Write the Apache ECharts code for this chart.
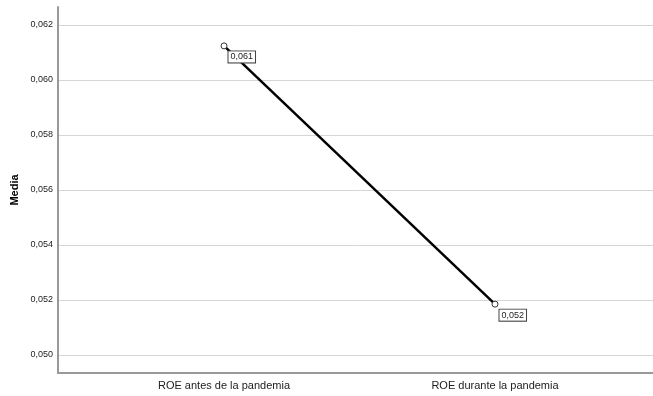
<!DOCTYPE html>
<html><head><meta charset="utf-8">
<script src="https://cdn.jsdelivr.net/npm/echarts@6/dist/echarts.min.js"></script>
<style>html,body{margin:0;padding:0;background:#fff}#c{width:653px;height:396px}</style>
</head><body><div id="c"></div>
<script>
const categories = ['ROE antes de la pandemia', 'ROE durante la pandemia'];
const means = [0.06124, 0.05185];
const pointLabels = ['0,061', '0,052'];
const yTicks = { min: 0.050, max: 0.062, interval: 0.002 };

const chart = echarts.init(document.getElementById('c'), null, { renderer: 'canvas' });
const fmt = v => v.toFixed(3).replace('.', ',');
const font = 'Liberation Sans, Arial';
chart.setOption({
  animation: false,
  grid: [
    { left: 58, right: 0, top: 7, bottom: 23 },
    { left: 58, right: 0, top: 25, bottom: 41 },
    { left: 224, right: 158, top: 25, bottom: 41 }
  ],
  xAxis: [
    { type: 'value', gridIndex: 0, min: 0, max: 1, axisLine: { show: true, lineStyle: { color: '#999', width: 2 } },
      axisTick: { show: false }, axisLabel: { show: false }, splitLine: { show: false } },
    { type: 'value', gridIndex: 1, min: 0, max: 1, show: false },
    { type: 'category', gridIndex: 2, data: categories, boundaryGap: false,
      axisLine: { show: false }, axisTick: { show: false }, splitLine: { show: false },
      axisLabel: { color: '#222', fontSize: 11, fontFamily: font, margin: 25 } }
  ],
  yAxis: [
    { type: 'value', gridIndex: 0, min: 0, max: 1,
      axisLine: { show: true, lineStyle: { color: '#999', width: 2 } }, axisTick: { show: false },
      splitLine: { show: false }, axisLabel: { show: false },
      name: 'Media', nameLocation: 'middle', nameGap: 38,
      nameTextStyle: { color: '#000', fontSize: 11, fontWeight: 'bold', fontFamily: font } },
    { type: 'value', gridIndex: 1, min: yTicks.min, max: yTicks.max, interval: yTicks.interval,
      axisLine: { show: false }, axisTick: { show: false },
      splitLine: { show: true, lineStyle: { color: '#d6d6d6', width: 1 } },
      axisLabel: { color: '#222', fontSize: 9, fontFamily: font, margin: 5, formatter: fmt } },
    { type: 'value', gridIndex: 2, min: yTicks.min, max: yTicks.max, show: false }
  ],
  series: [{
    type: 'line', xAxisIndex: 2, yAxisIndex: 2, data: means,
    lineStyle: { color: '#000', width: 2.5 },
    symbol: 'circle', symbolSize: 6,
    itemStyle: { color: '#fff', borderColor: '#333', borderWidth: 1 },
    label: { show: true, position: [8, 9], formatter: p => pointLabels[p.dataIndex],
      color: '#222', fontSize: 9, fontFamily: font,
      backgroundColor: '#fff', borderColor: '#444', borderWidth: 1, padding: [1, 2, 1, 2] },
    z: 5
  }]
});
</script></body></html>
